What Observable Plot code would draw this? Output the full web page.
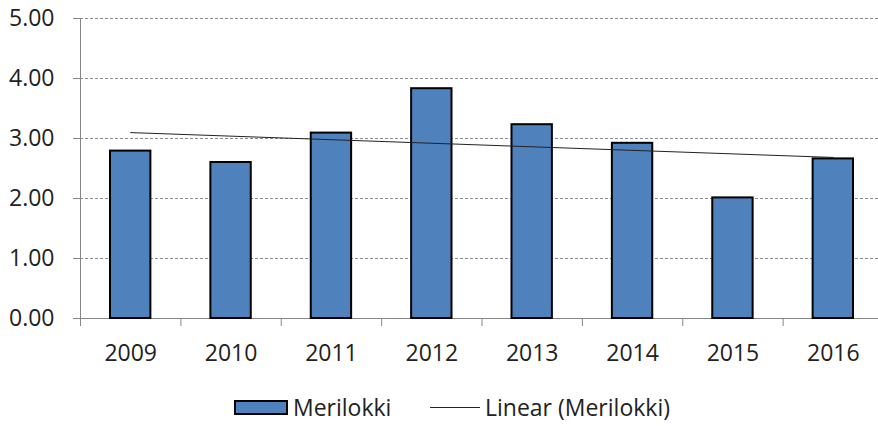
<!DOCTYPE html>
<html>
<head>
<meta charset="utf-8">
<script src="https://cdn.jsdelivr.net/npm/d3@7"></script>
<script src="https://cdn.jsdelivr.net/npm/@observablehq/plot@0.6"></script>
<style>
  html, body { margin: 0; padding: 0; background: #fff; }
  body { width: 878px; height: 426px; overflow: hidden; font-family: "Open Sans", sans-serif; color: #222; }
  #legend { position: relative; height: 38px; font-size: 23px; }
  .item { position: absolute; top: 0; height: 38px; display: flex; align-items: center; }
  .sw-bar { width: 54px; height: 15px; box-sizing: border-box; background: #4F81BD; border: 2px solid #000; }
  .sw-line { width: 50px; height: 1px; background: #222; }
</style>
</head>
<body>
<div id="chart"></div>
<div id="legend">
  <div class="item" style="left:234px"><div class="sw-bar"></div><span style="margin-left:5px">Merilokki</span></div>
  <div class="item" style="left:430px"><div class="sw-line"></div><span style="margin-left:5px">Linear (Merilokki)</span></div>
</div>
<script>
const years = [2009, 2010, 2011, 2012, 2013, 2014, 2015, 2016];
const values = [2.79, 2.60, 3.09, 3.83, 3.23, 2.92, 2.01, 2.66];
const yTicks = [0, 1, 2, 3, 4, 5];

const data = years.map((year, i) => ({year, value: values[i]}));
const boundaries = years.map(y => y - 0.5).concat([years[years.length - 1] + 0.5]);

const chart = Plot.plot({
  width: 878,
  height: 388,
  marginLeft: 80,
  marginTop: 18,
  marginBottom: 70,
  marginRight: 0,
  x: {type: "linear", domain: [2008.5, 2016.5], range: [80, 883]},
  y: {domain: [0, 5]},
  style: {fontFamily: "Open Sans", fontSize: "23px", color: "#222", background: "white", overflow: "hidden"},
  marks: [
    Plot.gridY(yTicks.slice(1), {stroke: "#8a8a8a", strokeOpacity: 1, strokeDasharray: "3,2"}),
    Plot.ruleY([0], {stroke: "#868686"}),
    Plot.ruleX([2008.5], {y1: 0, y2: 5, stroke: "#868686"}),
    Plot.rectY(data, {x1: d => d.year - 0.5, x2: d => d.year + 0.5, y: "value", insetLeft: 30, insetRight: 30, fill: "#4F81BD", stroke: "#000", strokeWidth: 2}),
    Plot.linearRegressionY(data, {x: "year", y: "value", ci: 0, stroke: "#222", strokeWidth: 1}),
    Plot.axisY({ticks: yTicks, tickFormat: d3.format(".2f"), tickSize: 7, tickPadding: 19, stroke: "#868686", fill: "#222", label: null}),
    Plot.axisX({ticks: boundaries, tickSize: 8, tickFormat: () => "", stroke: "#868686", label: null}),
    Plot.axisX({ticks: years, tickSize: 0, tickPadding: 26, tickFormat: d => String(d), fill: "#222", label: null})
  ]
});
document.getElementById("chart").appendChild(chart);
</script>
</body>
</html>
